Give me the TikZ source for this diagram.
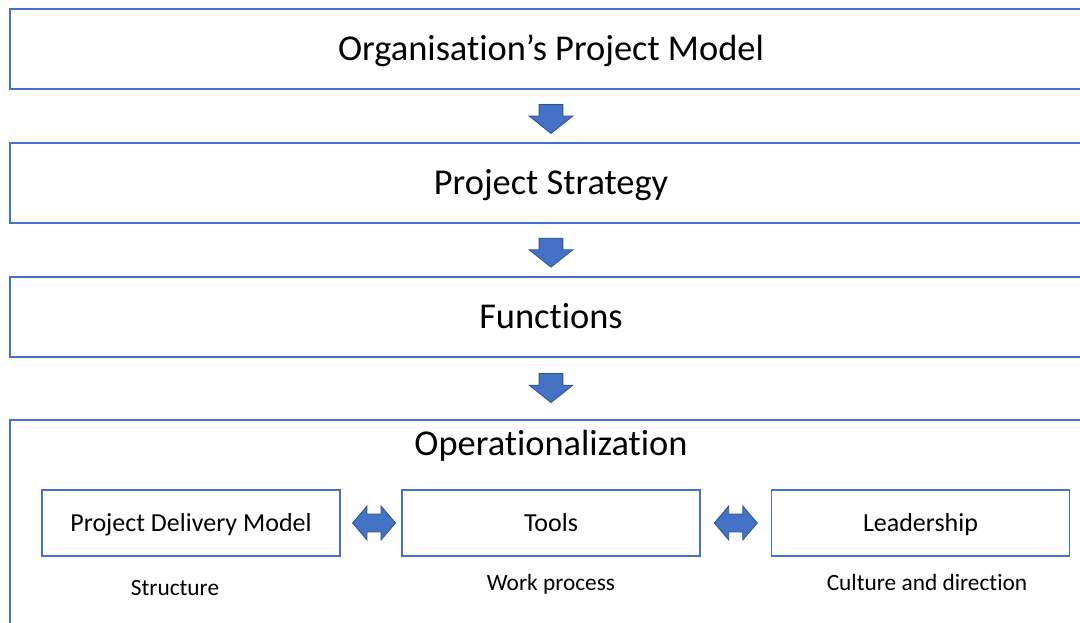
\documentclass[tikz,border=0pt]{standalone}
\usepackage{fontspec}
\setmainfont[Ligatures=NoCommon]{Carlito}
\usepackage{tikz}
\usetikzlibrary{shapes.arrows,calc}
\definecolor{boxblue}{RGB}{68,114,196}
\definecolor{arrowedge}{RGB}{47,82,143}

\begin{document}
\begin{tikzpicture}[x=0.75pt, y=-0.75pt,
		bigtext/.style={font=\fontsize{27.3}{32}\selectfont, text height=17.6pt, text depth=0pt},
		mainbox/.style={bigtext, draw=boxblue, line width=1.5pt, minimum width=811.5pt, minimum height=60pt},
		subbox/.style={draw=boxblue, line width=1.1pt, minimum width=223.5pt, minimum height=49.5pt, text height=12.6pt, text depth=0pt, font=\fontsize{19.5}{23}\selectfont},
		sublabel/.style={font=\fontsize{17.5}{21}\selectfont, text height=11.3pt, text depth=0pt},
		downarrow/.style={single arrow, shape border rotate=270, fill=boxblue, draw=arrowedge, line width=0.6pt, inner xsep=8.6pt, inner ysep=0pt, minimum height=21.75pt, minimum width=32.25pt, single arrow head extend=7.5pt, single arrow tip angle=103},
		sidearrow/.style={double arrow, fill=boxblue, draw=arrowedge, line width=0.6pt, inner xsep=0pt, inner ysep=6.4pt, minimum height=32.25pt, minimum width=24.75pt, double arrow head extend=6pt, double arrow tip angle=99}]
				\path[use as bounding box, fill=white] (0,0) rectangle (1080,622);
				\clip (0,0) rectangle (1080,622);
				% the chain of main levels
				\node[mainbox] (org) at (551,49) {Organisation’s Project Model};
				\node[mainbox] (strat) at (551,182.5) {Project Strategy};
				\node[mainbox] (func) at (551,316.5) {Functions};
				\node[mainbox, minimum height=225pt] (oper) at (551,570) {};
				\node[bigtext] (opertitle) at (551,444) {Operationalization};
				\node[downarrow] (a1) at ($(org.south)!0.47!(strat.north)$) {};
				\node[downarrow] (a2) at ($(strat.south)!0.47!(func.north)$) {};
				\node[downarrow] (a3) at ($(func.south)!0.42!(oper.north)$) {};
				% inner parts
				\node[subbox] (pdm) at (191,523) {Project Delivery Model};
				\node[subbox] (tools) at (551,523) {Tools};
				\node[subbox] (lead) at (920.5,523) {Leadership};
				\node[sidearrow] (d1) at ($(pdm.east)!0.55!(tools.west)$) {};
				\node[sidearrow] (d2) at ($(tools.east)!0.5!(lead.west)$) {};
				\node[sublabel] (struct) at (175,588.3) {Structure};
				\node[sublabel] (work) at (551,583.3) {Work process};
				\node[sublabel] (cult) at (927,583.3) {Culture and direction};
			\end{tikzpicture}
\end{document}
